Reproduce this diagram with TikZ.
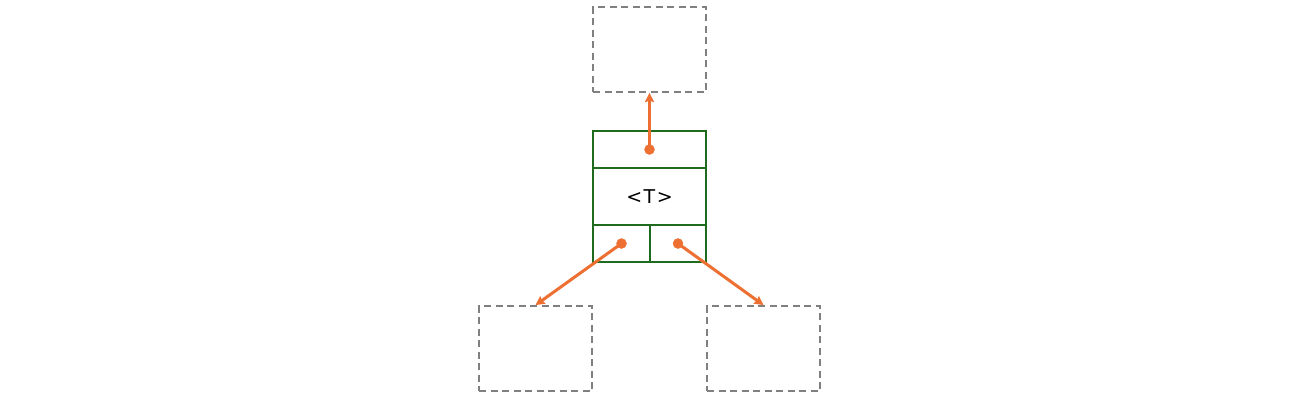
\documentclass[tikz,border=0pt]{standalone}
\usepackage{fontspec}
\setsansfont{DejaVu Sans}
\usetikzlibrary{arrows.meta}
\definecolor{cellgreen}{HTML}{1E6B1E}
\definecolor{ptrorange}{HTML}{ED7032}
\definecolor{slotgray}{HTML}{808080}
\tikzset{
    cell/.style={draw=cellgreen, line width=2pt, inner sep=0pt},
    slot/.style={draw=slotgray, dash pattern=on 7pt off 4.5pt, line width=1.8pt,
        minimum width=113pt, minimum height=85pt, inner sep=0pt},
    ptr/.style={ptrorange, line width=3pt, -{Stealth[length=9pt,width=9pt,inset=1pt]}},
}
\begin{document}
\begin{tikzpicture}[x=1pt,y=-1pt]
    \useasboundingbox (0,0) rectangle (1300,400);

    % empty slots
    \node[slot] (up) at (649.5,49.5) {};
    \node[slot] (dl) at (535.5,348.5) {};
    \node[slot] (dr) at (763.5,348.5) {};

    % the node itself
    \node[cell, minimum width=113pt, minimum height=37pt] (head) at (649.5,149.5) {};
    \node[cell, minimum width=113pt, minimum height=57pt,
        font=\sffamily\fontsize{19}{23}\selectfont] (val) at (649.5,196.5) {\textless\kern1.5pt T\kern1.5pt\textgreater};
    \node[cell, minimum width=57pt, minimum height=37pt] (lft) at (621.5,243.5) {};
    \node[cell, minimum width=56pt, minimum height=37pt] (rgt) at (678,243.5) {};

    % pointers
    \filldraw[ptrorange] (head.center) circle (5pt);
    \filldraw[ptrorange] (lft.center) circle (5pt);
    \filldraw[ptrorange] (rgt.center) circle (5pt);
    \draw[ptr] (head.center) -- (up.south);
    \draw[ptr] (lft.center) -- (dl.north);
    \draw[ptr] (rgt.center) -- (dr.north);
\end{tikzpicture}
\end{document}
